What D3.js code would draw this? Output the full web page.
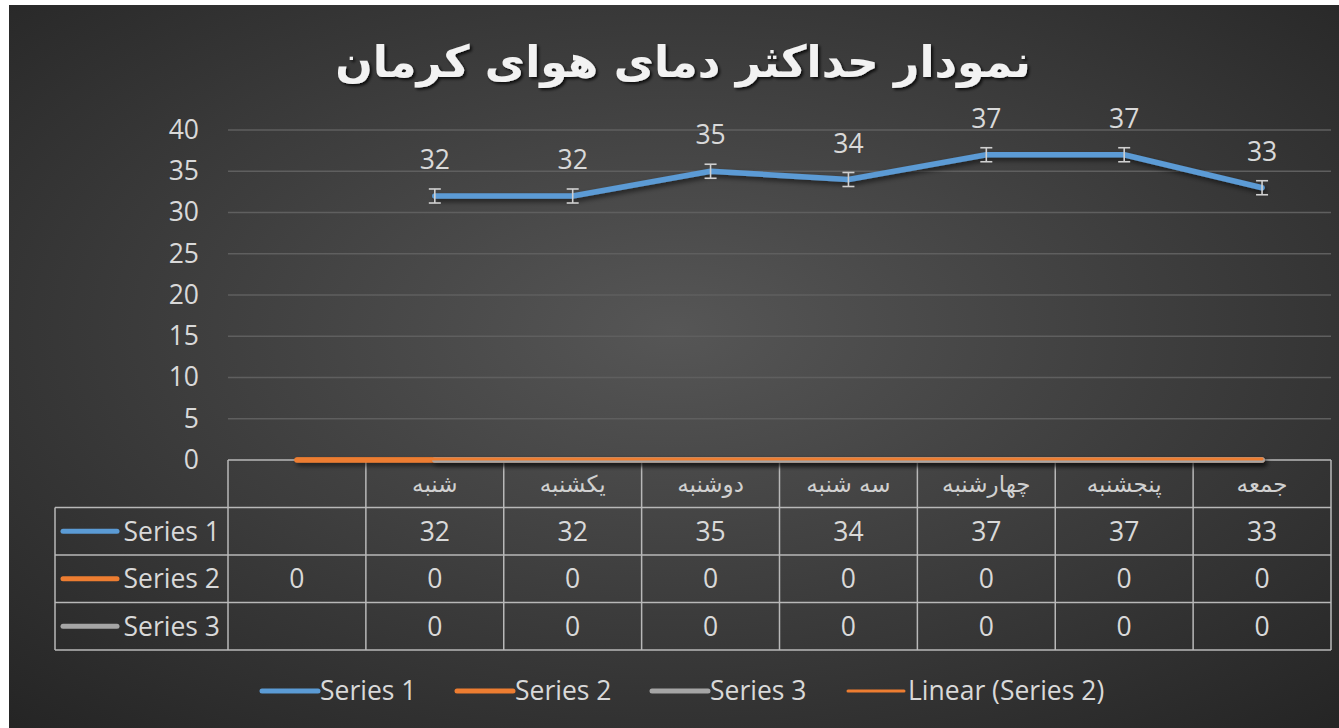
<!DOCTYPE html>
<html>
<head>
<meta charset="utf-8">
<script src="https://cdn.jsdelivr.net/npm/d3@7"></script>
<style>
  body { margin: 0; background: #fff; }
  text { font-family: "Open Sans", Lato, sans-serif; }
</style>
</head>
<body>
<div id="viz-area"></div>
<script>
// chart values
const categories = ["", "شنبه", "یکشنبه", "دوشنبه", "سه شنبه", "چهارشنبه", "پنجشنبه", "جمعه"];
const series1 = [null, 32, 32, 35, 34, 37, 37, 33];
const series2 = [0, 0, 0, 0, 0, 0, 0, 0];
const series3 = [null, 0, 0, 0, 0, 0, 0, 0];
const seriesNames = ["Series 1", "Series 2", "Series 3"];
const legendNames = ["Series 1", "Series 2", "Series 3", "Linear (Series 2)"];
const yTicks = [0, 5, 10, 15, 20, 25, 30, 35, 40];
const errAmount = 0.85;
const title = "نمودار حداکثر دمای هوای کرمان";

const W = 1339, H = 728;
const PLOT = { LEFT: 228, RIGHT: 1331, TOP: 130, BOTTOM: 460 };
const ROW_H = 47.5;
const COLORS = { s1: "#5b9bd5", s2: "#ed7d31", s3: "#a5a5a5", txt: "#d9d9d9", grid: "#5f5f5f", table: "#b8b8b8" };
const FS = "26.5px";

const svg = d3.select("#viz-area").append("svg")
  .attr("width", W).attr("height", H);

const defs = svg.append("defs");
const grad = defs.append("radialGradient").attr("id", "bg")
  .attr("cx", "50%").attr("cy", "45%").attr("r", "75%");
grad.append("stop").attr("offset", "0%").attr("stop-color", "#565656");
grad.append("stop").attr("offset", "100%").attr("stop-color", "#242424");

const sh = defs.append("filter").attr("id", "shadow").attr("filterUnits", "userSpaceOnUse")
  .attr("x", 0).attr("y", 0).attr("width", W).attr("height", H);
sh.append("feDropShadow").attr("dx", 2).attr("dy", 3).attr("stdDeviation", 2.5)
  .attr("flood-color", "#000").attr("flood-opacity", 0.55);

const tsh = defs.append("filter").attr("id", "tshadow")
  .attr("x", "-5%").attr("y", "-20%").attr("width", "110%").attr("height", "140%");
tsh.append("feDropShadow").attr("dx", 2).attr("dy", 2).attr("stdDeviation", 1.5)
  .attr("flood-color", "#000").attr("flood-opacity", 0.8);

svg.append("rect").attr("x", 9).attr("y", 5).attr("width", W - 9).attr("height", H - 5)
  .attr("fill", "url(#bg)");

// title
svg.append("text")
  .attr("x", 683).attr("y", 77)
  .attr("text-anchor", "middle")
  .attr("fill", "#f2f2f2")
  .attr("filter", "url(#tshadow)")
  .style("font-family", "'DejaVu Sans', sans-serif")
  .style("font-weight", "bold")
  .style("font-size", "44px")
  .style("letter-spacing", "1px")
  .text(title);

// scales
const x = d3.scaleBand().domain(d3.range(categories.length)).range([PLOT.LEFT, PLOT.RIGHT]).padding(0);
const cx = i => x(i) + x.bandwidth() / 2;
const y = d3.scaleLinear().domain([0, 40]).range([PLOT.BOTTOM, PLOT.TOP]);

// gridlines
svg.append("g").selectAll("line")
  .data(yTicks.filter(t => t > 0))
  .join("line")
  .attr("x1", PLOT.LEFT).attr("x2", PLOT.RIGHT)
  .attr("y1", d => y(d)).attr("y2", d => y(d))
  .attr("stroke", COLORS.grid).attr("stroke-width", 1.3);

// y axis labels
const yAxis = svg.append("g").attr("transform", `translate(${PLOT.LEFT - 29},0)`)
  .call(d3.axisLeft(y).tickValues(yTicks).tickSize(0).tickPadding(0));
yAxis.select(".domain").remove();
yAxis.selectAll("text").attr("fill", COLORS.txt).style("font-size", FS)
  .style("font-family", "'Open Sans', sans-serif");

// table
const table = svg.append("g").attr("stroke", COLORS.table).attr("stroke-width", 1.5).attr("fill", "none");
const tableLeft = 55;
const rowsY = d3.range(5).map(k => PLOT.BOTTOM + k * ROW_H);
table.append("line").attr("x1", PLOT.LEFT).attr("x2", PLOT.RIGHT).attr("y1", rowsY[0]).attr("y2", rowsY[0]);
rowsY.slice(1).forEach(yy => {
  table.append("line").attr("x1", tableLeft).attr("x2", PLOT.RIGHT).attr("y1", yy).attr("y2", yy);
});
table.append("line").attr("x1", tableLeft).attr("x2", tableLeft).attr("y1", rowsY[1]).attr("y2", rowsY[4]);
d3.range(categories.length + 1).forEach(i => {
  const xx = i < categories.length ? x(i) : PLOT.RIGHT;
  table.append("line").attr("x1", xx).attr("x2", xx).attr("y1", rowsY[0]).attr("y2", rowsY[4]);
});

// category headers
svg.append("g").selectAll("text")
  .data(categories)
  .join("text")
  .attr("x", (d, i) => cx(i)).attr("y", rowsY[0] + ROW_H / 2 + 8)
  .attr("text-anchor", "middle")
  .attr("fill", "#d0d0d0")
  .style("font-family", "'DejaVu Sans', sans-serif")
  .style("font-size", "23px")
  .text(d => d);

// table values + row keys
const allSeries = [series1, series2, series3];
const seriesColors = [COLORS.s1, COLORS.s2, COLORS.s3];
allSeries.forEach((vals, k) => {
  const rowMid = rowsY[k + 1] + ROW_H / 2;
  svg.append("g").selectAll("text")
    .data(vals)
    .join("text")
    .attr("x", (d, i) => cx(i)).attr("y", rowMid + 9.5)
    .attr("text-anchor", "middle")
    .attr("fill", COLORS.txt)
    .style("font-size", FS)
    .text(d => d === null ? "" : d);
  svg.append("line")
    .attr("x1", 63).attr("x2", 117).attr("y1", rowMid).attr("y2", rowMid)
    .attr("stroke", seriesColors[k]).attr("stroke-width", 5).attr("stroke-linecap", "round");
  svg.append("text")
    .attr("x", 220).attr("y", rowMid + 9.5)
    .attr("text-anchor", "end")
    .attr("fill", COLORS.txt)
    .style("font-size", FS)
    .text(seriesNames[k]);
});

// lines
const line = d3.line()
  .defined(d => d.v !== null)
  .x(d => cx(d.i)).y(d => y(d.v));
const pts = vals => vals.map((v, i) => ({ v, i }));

const lines = svg.append("g").attr("fill", "none").attr("stroke-linecap", "round").attr("stroke-linejoin", "round");
lines.append("path").attr("d", line(pts(series2)))
  .attr("stroke", COLORS.s2).attr("stroke-width", 5.5).attr("filter", "url(#shadow)");
lines.append("path").attr("d", line(pts(series3)))
  .attr("stroke", COLORS.s3).attr("stroke-width", 5.5).attr("filter", "url(#shadow)");
// linear trend of series 2
const n = series2.length;
const xs = d3.range(n), mx = d3.mean(xs), my = d3.mean(series2);
const slope = d3.sum(xs, i => (i - mx) * (series2[i] - my)) / d3.sum(xs, i => (i - mx) ** 2);
const icpt = my - slope * mx;
lines.append("line")
  .attr("x1", cx(0)).attr("x2", cx(n - 1))
  .attr("y1", y(icpt)).attr("y2", y(icpt + slope * (n - 1)))
  .attr("stroke", COLORS.s2).attr("stroke-width", 3).attr("transform", "translate(0,-1)");

lines.append("path").attr("d", line(pts(series1)))
  .attr("stroke", COLORS.s1).attr("stroke-width", 5.5).attr("filter", "url(#shadow)");

// error bars
const eb = svg.append("g").attr("stroke", "#d0d0d0").attr("stroke-width", 1.6);
pts(series1).filter(d => d.v !== null).forEach(d => {
  const xx = cx(d.i);
  eb.append("line").attr("x1", xx).attr("x2", xx).attr("y1", y(d.v + errAmount)).attr("y2", y(d.v - errAmount));
  eb.append("line").attr("x1", xx - 6).attr("x2", xx + 6).attr("y1", y(d.v + errAmount)).attr("y2", y(d.v + errAmount));
  eb.append("line").attr("x1", xx - 6).attr("x2", xx + 6).attr("y1", y(d.v - errAmount)).attr("y2", y(d.v - errAmount));
});

// data labels
svg.append("g").selectAll("text")
  .data(pts(series1).filter(d => d.v !== null))
  .join("text")
  .attr("x", d => cx(d.i)).attr("y", d => y(d.v) - 27)
  .attr("text-anchor", "middle")
  .attr("fill", COLORS.txt)
  .style("font-size", FS)
  .text(d => d.v);

// legend
const legendX = [262, 457, 652, 848];
const legendStyle = [
  { c: COLORS.s1, w: 5 }, { c: COLORS.s2, w: 5 }, { c: COLORS.s3, w: 5 }, { c: COLORS.s2, w: 3 }
];
const lg = svg.append("g");
legendNames.forEach((name, k) => {
  lg.append("line")
    .attr("x1", legendX[k]).attr("x2", legendX[k] + 56).attr("y1", 691).attr("y2", 691)
    .attr("stroke", legendStyle[k].c).attr("stroke-width", legendStyle[k].w).attr("stroke-linecap", "round");
  lg.append("text")
    .attr("x", legendX[k] + (k === 3 ? 60 : 58)).attr("y", 700)
    .attr("fill", COLORS.txt)
    .style("font-size", FS)
    .text(name);
});
</script>
</body>
</html>
